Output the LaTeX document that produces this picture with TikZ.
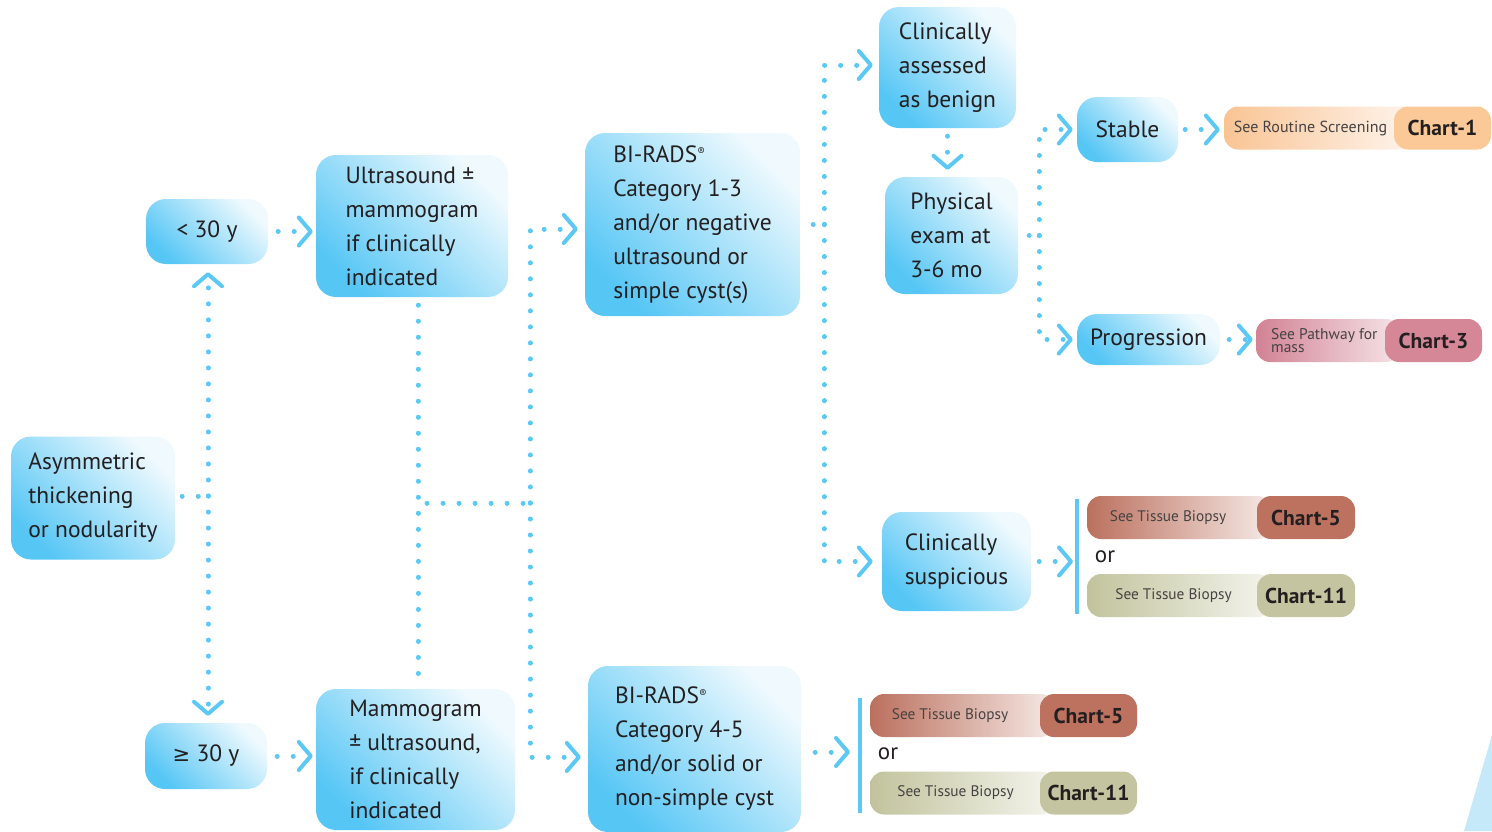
\documentclass[tikz,border=0pt]{standalone}
\usepackage{fontspec}
\setmainfont{PT Sans}
\newfontfamily\symfont{DejaVu Sans}
\usetikzlibrary{arrows.meta,calc}

\definecolor{flowblue}{RGB}{92,200,245}
\definecolor{boxdeep}{RGB}{86,198,245}
\definecolor{boxpale}{RGB}{240,250,254}
\definecolor{inktext}{RGB}{35,31,32}
\definecolor{seegray}{RGB}{70,66,66}
\definecolor{cornerblue}{RGB}{198,233,250}
\definecolor{peachA}{RGB}{249,196,148}
\definecolor{peachB}{RGB}{254,244,236}
\definecolor{peachTag}{RGB}{251,201,152}
\definecolor{roseA}{RGB}{210,130,148}
\definecolor{roseB}{RGB}{246,228,232}
\definecolor{roseTag}{RGB}{213,135,152}
\definecolor{rustA}{RGB}{187,112,94}
\definecolor{rustB}{RGB}{246,234,230}
\definecolor{rustTag}{RGB}{189,114,96}
\definecolor{oliveA}{RGB}{194,195,157}
\definecolor{oliveB}{RGB}{244,244,237}
\definecolor{oliveTag}{RGB}{196,197,160}

\newcommand{\regmark}{\raisebox{0.55ex}{\fontsize{11}{11}\selectfont ®}}

\tikzset{
  stepbox/.style={rounded corners=20pt, top color=boxpale, bottom color=boxdeep,
    shading angle=-45, align=left, text=inktext, inner sep=0pt,
    font=\fontsize{23.5}{34}\selectfont},
  flow/.style={draw=flowblue, line width=5pt, line cap=round,
    dash pattern=on 0.01pt off 16pt},
  chev/.style={-{Straight Barb[length=12pt,width=28pt,line width=4pt,round]}},
  barline/.style={draw=flowblue, line width=3.5pt},
  fadebox/.style={rounded corners=14pt, minimum height=43pt, inner sep=0pt},
  tagbox/.style={rounded corners=14pt, minimum height=43pt, inner sep=0pt,
    text=inktext, font=\fontsize{21.5}{21.5}\selectfont\bfseries},
  seetext/.style={inner sep=0pt, text=seegray, font=\fontsize{15.3}{15.3}\selectfont},
  ortext/.style={inner sep=0pt, text=inktext, font=\fontsize{23}{23}\selectfont},
}

\begin{document}
\begin{tikzpicture}[x=1pt, y=-1pt]
\useasboundingbox (0,0) rectangle (1492,831);

% corner accent
\fill[cornerblue] (1492,735) -- (1492,831) -- (1464,831) -- cycle;

% main steps
\node[stepbox, minimum width=164pt, minimum height=123pt] (asym) at (93,498) {Asymmetric\\thickening\\or nodularity};
\node[stepbox, minimum width=122pt, minimum height=65pt] (lt30) at (207,231.5) {< 30 y};
\node[stepbox, minimum width=122pt, minimum height=66pt] (ge30) at (206,756) {{\symfont\fontsize{21}{21}\selectfont ≥} 30 y};
\node[stepbox, minimum width=192pt, minimum height=142pt] (us) at (412,226) {Ultrasound ±\\mammogram\\if clinically\\indicated};
\node[stepbox, minimum width=199pt, minimum height=141pt] (mg) at (415.5,759.5) {Mammogram\\± ultrasound,\\if clinically\\indicated};
\node[stepbox, minimum width=215pt, minimum height=183pt] (bi1) at (692.5,224.5) {BI-RADS\regmark\\Category 1-3\\and/or negative\\ultrasound or\\simple cyst(s)};
\node[stepbox, minimum width=213pt, minimum height=166pt] (bi2) at (694.5,749) {BI-RADS\regmark\\Category 4-5\\and/or solid or\\non-simple cyst};
\node[stepbox, minimum width=137pt, minimum height=121pt] (cab) at (947.5,67.5) {Clinically\\assessed\\as benign};
\node[stepbox, minimum width=133pt, minimum height=117pt] (phys) at (951.5,235.5) {Physical\\exam at\\3-6 mo};
\node[stepbox, minimum width=101pt, minimum height=65pt] (stable) at (1127.5,129.5) {Stable};
\node[stepbox, minimum width=143pt, minimum height=51pt] (prog) at (1148.5,339.5) {Progression};
\node[stepbox, minimum width=149pt, minimum height=99pt] (susp) at (956.5,561.5) {Clinically\\suspicious};

% referral badges
\node[fadebox, minimum width=188pt, left color=peachA, right color=peachB] (r1) at (1318,128) {};
\node[tagbox, minimum width=97pt, fill=peachTag] (r1t) at (1442.5,128) {Chart-1};
\node[seetext, font=\fontsize{16}{16}\selectfont] (r1s) at (1310.5,128) {See Routine Screening};

\node[fadebox, minimum width=144pt, left color=roseA, right color=roseB] (r3) at (1328,340.5) {};
\node[tagbox, minimum width=97pt, fill=roseTag] (r3t) at (1433.5,340.5) {Chart-3};
\node[seetext, anchor=west, align=left, font=\fontsize{15.5}{13.5}\selectfont] (r3s) at (1271,340.5) {See Pathway for\\mass};

\node[fadebox, minimum width=185pt, left color=rustA, right color=rustB] (u5) at (1179.5,517.5) {};
\node[tagbox, minimum width=98pt, fill=rustTag] (u5t) at (1306,517.5) {Chart-5};
\node[seetext] (u5s) at (1168,518) {See Tissue Biopsy};
\node[ortext] (uor) at (1105,557) {or};
\node[fadebox, minimum width=185pt, left color=oliveA, right color=oliveB] (u11) at (1179.5,595.5) {};
\node[tagbox, minimum width=98pt, fill=oliveTag] (u11t) at (1306,595.5) {Chart-11};
\node[seetext] (u11s) at (1173.5,596) {See Tissue Biopsy};

\node[fadebox, minimum width=185pt, left color=rustA, right color=rustB] (l5) at (962.5,715.5) {};
\node[tagbox, minimum width=97pt, fill=rustTag] (l5t) at (1088.5,715.5) {Chart-5};
\node[seetext] (l5s) at (950,716) {See Tissue Biopsy};
\node[ortext] (lor) at (888,754) {or};
\node[fadebox, minimum width=185pt, left color=oliveA, right color=oliveB] (l11) at (962.5,793) {};
\node[tagbox, minimum width=97pt, fill=oliveTag] (l11t) at (1088.5,793) {Chart-11};
\node[seetext] (l11s) at (955.5,793) {See Tissue Biopsy};

% bracket bars
\coordinate (bar1t) at (1077,499);
\coordinate (bar1b) at (1077,614);
\coordinate (bar2t) at (860,698);
\coordinate (bar2b) at (860,813);
\draw[barline] (bar1t) -- (bar1b);
\draw[barline] (bar2t) -- (bar2b);

% junction points
\coordinate (spine) at (208,496);
\coordinate (merge) at (418,503);
\coordinate (split) at (530,503);
\coordinate (fork) at (824,224.5);
\coordinate (hinge) at (1039,235.5);

% age split
\draw[flow, shorten <=7pt] (asym.east |- spine) -- (spine);
\draw[flow, chev, shorten >=8pt] (spine) -- (spine |- lt30.south);
\draw[flow, chev, shorten >=7pt] (spine) -- (spine |- ge30.north);
\draw[flow, chev, shorten <=10pt, shorten >=3pt] (lt30.east) -- (lt30.east -| us.west);
\draw[flow, chev, shorten <=10pt, shorten >=3pt] (ge30.east) -- (ge30.east -| mg.west);

% imaging to BI-RADS
\draw[flow, shorten <=8pt] ([xshift=6pt]us.south) -- ([xshift=6pt]us.south |- mg.north);
\draw[flow, shorten <=9pt] (merge) -- (split);
\draw[flow, chev, shorten >=7pt] (split) |- ([yshift=-4.5pt]bi1.west);
\draw[flow, chev, shorten >=7pt] (split) |- ([yshift=-8pt]bi2.west);

% BI-RADS 1-3 outcomes
\draw[flow, shorten <=13pt] (bi1.east) -- (fork);
\draw[flow, chev, shorten >=6pt] (fork) |- ([yshift=2.5pt]cab.west);
\draw[flow, chev, shorten >=9pt] (fork) |- (susp.west);
\draw[flow, chev, shorten <=8pt, shorten >=7pt] (cab.south) -- (cab.south |- phys.north);

% follow-up
\draw[flow, shorten <=11pt] (phys.east) -- (hinge);
\draw[flow, chev, shorten >=4pt] (hinge) |- (stable.west);
\draw[flow, chev, shorten >=4pt] (hinge) |- (prog.west);
\draw[flow, chev, shorten <=7pt, shorten >=4pt] (stable.east) -- (stable.east -| r1.west);
\draw[flow, chev, shorten <=9pt, shorten >=3pt] (prog.east) -- (prog.east -| r3.west);
\draw[flow, chev, shorten <=8pt, shorten >=4pt] (susp.east) -- (susp.east -| bar1t);
\draw[flow, chev, shorten <=14pt, shorten >=10pt] ([yshift=-3pt]bi2.east) -- ([yshift=-3pt]bi2.east -| bar2t);

\end{tikzpicture}
\end{document}
